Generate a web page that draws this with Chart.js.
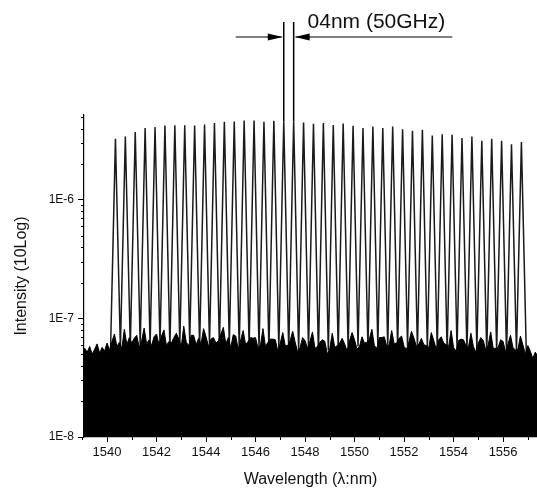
<!DOCTYPE html>
<html>
<head>
<meta charset="utf-8">
<script src="https://cdn.jsdelivr.net/npm/chart.js@4.4.0/dist/chart.umd.min.js"></script>
<style>
  html, body { margin: 0; padding: 0; background: #fff; }
  #wrap { width: 537px; height: 490px; }
</style>
</head>
<body>
<div id="wrap"><canvas id="spectrum" width="537" height="490"></canvas></div>
<script>
// Peak centres (nm) and peak heights (x1E-6)
const peakWl = [1540.34, 1540.74, 1541.14, 1541.54, 1541.94, 1542.34, 1542.74, 1543.14, 1543.54, 1543.94,
                1544.34, 1544.74, 1545.14, 1545.54, 1545.94, 1546.34, 1546.74, 1547.14, 1547.54, 1547.94,
                1548.34, 1548.74, 1549.14, 1549.54, 1549.94, 1550.34, 1550.74, 1551.14, 1551.54, 1551.94,
                1552.34, 1552.74, 1553.14, 1553.54, 1553.94, 1554.34, 1554.74, 1555.14, 1555.54, 1555.94,
                1556.34, 1556.74];
const peakInt = [3.27, 3.42, 3.73, 4.03, 4.11, 4.24, 4.27, 4.27, 4.24, 4.32,
                 4.44, 4.55, 4.58, 4.67, 4.67, 4.55, 4.64, 4.60, 4.60, 4.49,
                 4.38, 4.44, 4.29, 4.40, 4.21, 4.03, 4.15, 4.03, 4.15, 3.95,
                 3.82, 3.90, 3.49, 3.58, 3.54, 3.32, 3.42, 3.15, 3.27, 3.16,
                 2.95, 3.07];
// valley level between neighbouring peaks (x1E-8), first one before peak 0, last one after peak 41
const valleys = [5.2, 5.6, 5.8, 6.0, 5.9, 6.1, 5.7, 6.0, 6.2, 5.8, 6.0, 5.9, 6.1, 5.6, 5.8,
                 5.7, 5.5, 5.6, 5.4, 5.3, 5.5, 5.2, 5.4, 5.5, 5.6, 5.8, 5.7, 6.0, 5.9, 5.7,
                 5.9, 5.6, 5.7, 5.6, 5.4, 5.6, 5.3, 5.5, 5.2, 5.4, 5.1, 5.2, 4.9];

// upper edge of the noise floor (x1E-8), sampled every 0.1 nm from 1539.0 nm
const noiseStart = 1539.0;
const noiseTop = [4.9, 5.6, 5.2, 5.8, 5.0, 5.5, 6.1, 5.1, 5.7, 5.3, 6.2, 5.4, 6.4,
  7.4, 5.8, 6.3, 5.6,  8.1, 6.0, 6.9, 6.2,  6.8, 7.2, 5.7, 6.5,  8.3, 6.1, 6.6, 5.9,
  7.0, 7.4, 6.0, 7.1,  8.0, 5.9, 6.4, 6.2,  6.9, 7.5, 6.7, 5.8,  8.6, 6.3, 5.9, 7.2,
  7.2, 6.0, 6.8, 6.1,  8.2, 7.0, 5.8, 6.7,  6.9, 6.2, 6.5, 7.4,  8.4, 6.1, 6.9, 5.7,
  7.3, 7.1, 5.5, 6.6,  7.9, 6.0, 6.4, 6.9,  6.8, 6.9, 5.6, 6.0,  8.2, 5.8, 6.3, 6.7,
  6.7, 6.6, 5.3, 6.2,  7.6, 5.9, 5.9, 6.5,  7.8, 6.3, 5.2, 5.7,  6.9, 6.5, 5.6, 6.4,
  7.7, 5.6, 5.8, 6.3,  6.6, 6.4, 5.0, 5.6,  7.5, 5.7, 5.9, 6.2,  6.8, 6.1, 5.3, 6.5,
  7.6, 6.6, 5.5, 5.8,  7.0, 6.2, 6.3, 6.7,  8.1, 5.9, 5.6, 6.9,  6.9, 7.0, 5.8, 6.0,
  7.9, 6.1, 6.2, 6.8,  7.1, 5.8, 5.5, 6.4,  7.8, 6.8, 5.8, 6.1,  6.8, 6.0, 5.9, 5.7,
  7.6, 6.5, 5.5, 6.6,  7.0, 6.2, 6.0, 5.8,  7.9, 5.7, 5.3, 6.5,  6.7, 6.6, 5.9, 5.7,
  7.5, 5.8, 5.2, 6.2,  6.9, 6.5, 5.4, 6.0,  7.7, 5.6, 5.6, 5.7,  6.6, 6.4, 5.2, 6.1,
  7.2, 5.7, 5.4, 5.5,  7.1, 6.0, 5.0, 5.9,
  5.3, 4.6, 5.2, 4.8];

// axis ticks
const xTicks = [1540, 1542, 1544, 1546, 1548, 1550, 1552, 1554, 1556];
const yTicks = [1e-8, 1e-7, 1e-6];
const yTickLabels = ['1E-8', '1E-7', '1E-6'];

// the two channels marked with the spacing annotation
const markIdx = [17, 18];
const markText = '04nm (50GHz)';
const arrowFrom = 1545.2;
const arrowTo = 1553.95;

// build the traces
const peakTrace = [];
peakWl.forEach((w, i) => {
  const vx = i === 0 ? w - 0.2 : (peakWl[i - 1] + w) / 2;
  peakTrace.push({ x: vx, y: valleys[i] * 1e-8 });
  peakTrace.push({ x: w, y: peakInt[i] * 1e-6 });
});
peakTrace.push({ x: peakWl[peakWl.length - 1] + 0.2, y: valleys[valleys.length - 1] * 1e-8 });

const noiseTrace = noiseTop.map((v, i) => ({ x: (noiseStart * 10 + i) / 10, y: v * 1e-8 }));

const FONT = "'Liberation Sans', Arial, sans-serif";

const extras = {
  id: 'extras',
  afterDraw(chart) {
    const { ctx, chartArea, scales: { x, y } } = chart;
    ctx.save();
    ctx.strokeStyle = '#000';
    ctx.fillStyle = '#000';
    ctx.lineWidth = 1;

    // minor ticks on the log axis
    [-8, -7, -6].forEach(d => {
      for (let m = 2; m <= 9; m++) {
        const v = m * Math.pow(10, d);
        if (v > y.max) break;
        const py = Math.round(y.getPixelForValue(v)) + 0.5;
        ctx.beginPath();
        ctx.moveTo(chartArea.left - 3, py);
        ctx.lineTo(chartArea.left, py);
        ctx.stroke();
      }
    });
    // minor ticks on the wavelength axis
    for (let w = 1539; w <= 1557; w += 2) {
      const px = Math.round(x.getPixelForValue(w)) + 0.5;
      ctx.beginPath();
      ctx.moveTo(px, chartArea.bottom);
      ctx.lineTo(px, chartArea.bottom + 3);
      ctx.stroke();
    }

    // channel spacing marker
    const topY = chartArea.top - 93;
    const arrowY = chartArea.top - 78;
    ctx.lineWidth = 1.5;
    const mx = markIdx.map(i => x.getPixelForValue(peakWl[i]));
    markIdx.forEach((idx, j) => {
      ctx.beginPath();
      ctx.moveTo(mx[j], y.getPixelForValue(peakInt[idx] * 1e-6));
      ctx.lineTo(mx[j], topY);
      ctx.stroke();
    });

    ctx.lineWidth = 1.2;
    const ax0 = x.getPixelForValue(arrowFrom);
    const ax1 = x.getPixelForValue(arrowTo);
    ctx.beginPath();
    ctx.moveTo(ax0, arrowY); ctx.lineTo(mx[0] - 2, arrowY);
    ctx.moveTo(ax1, arrowY); ctx.lineTo(mx[1] + 2, arrowY);
    ctx.stroke();
    // heads
    ctx.beginPath();
    ctx.moveTo(mx[0] - 1, arrowY);
    ctx.lineTo(mx[0] - 16, arrowY - 3.5);
    ctx.lineTo(mx[0] - 16, arrowY + 3.5);
    ctx.closePath();
    ctx.moveTo(mx[1] + 1, arrowY);
    ctx.lineTo(mx[1] + 16, arrowY - 3.5);
    ctx.lineTo(mx[1] + 16, arrowY + 3.5);
    ctx.closePath();
    ctx.fill();

    ctx.font = '21px ' + FONT;
    ctx.fillStyle = '#111';
    ctx.textAlign = 'left';
    ctx.textBaseline = 'middle';
    ctx.fillText(markText, x.getPixelForValue(1548.1), chartArea.top - 93);
    ctx.restore();
  }
};

new Chart(document.getElementById('spectrum').getContext('2d'), {
  type: 'line',
  data: {
    datasets: [
      {
        label: 'noise',
        data: noiseTrace,
        borderColor: '#000',
        backgroundColor: '#000',
        borderWidth: 1,
        pointRadius: 0,
        fill: 'start'
      },
      {
        label: 'channels',
        data: peakTrace,
        borderColor: '#1a1a1a',
        borderWidth: 1.5,
        pointRadius: 0,
        fill: false
      }
    ]
  },
  options: {
    responsive: false,
    animation: false,
    events: [],
    layout: { padding: { top: 115, left: 0, right: 0, bottom: 0 } },
    plugins: { legend: { display: false }, tooltip: { enabled: false } },
    scales: {
      x: {
        type: 'linear',
        min: 1539.07,
        max: 1557.37,
        afterBuildTicks: s => { s.ticks = xTicks.map(v => ({ value: v })); },
        afterFit: s => { s.height = 53; },
        grid: { drawOnChartArea: false, drawTicks: true, tickLength: 5, color: '#000' },
        border: { display: true, color: '#000', width: 1.2 },
        ticks: {
          color: '#111',
          font: { family: FONT, size: 13 },
          padding: 3,
          maxRotation: 0,
          callback: v => String(v)
        },
        title: {
          display: true,
          text: 'Wavelength (λ:nm)',
          color: '#111',
          font: { family: FONT, size: 16 },
          padding: { top: 0, bottom: 1 }
        }
      },
      y: {
        type: 'logarithmic',
        min: 1e-8,
        max: 5.2e-6,
        afterBuildTicks: s => { s.ticks = yTicks.map(v => ({ value: v })); },
        afterFit: s => { s.width = 84; },
        grid: { drawOnChartArea: false, drawTicks: true, tickLength: 6, color: '#000' },
        border: { display: true, color: '#000', width: 1.2 },
        ticks: {
          color: '#111',
          font: { family: FONT, size: 12 },
          padding: 4,
          callback: (v, i) => yTickLabels[i]
        },
        title: {
          display: true,
          text: 'Intensity (10Log)',
          color: '#111',
          font: { family: FONT, size: 16 },
          padding: { top: 12, bottom: 0 }
        }
      }
    }
  },
  plugins: [extras]
});
</script>
</body>
</html>
